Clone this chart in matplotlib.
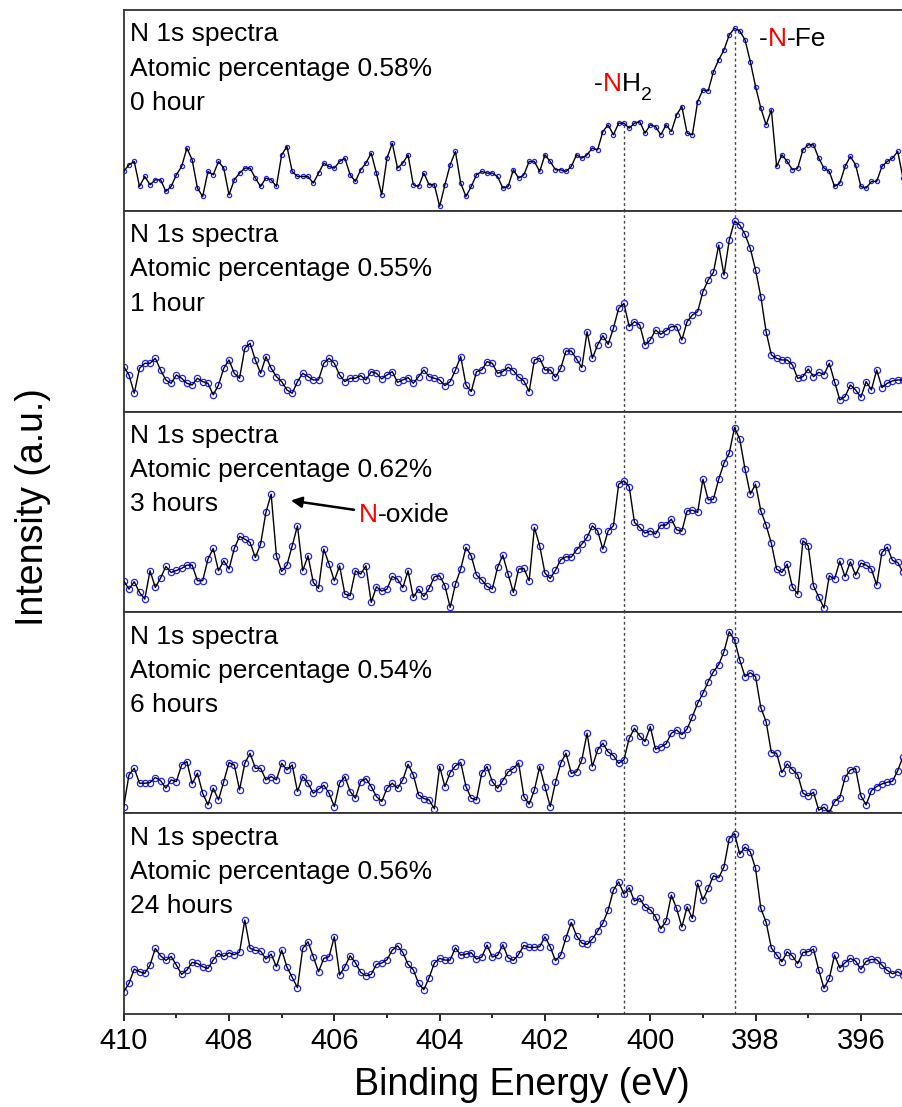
import numpy as np
import matplotlib.pyplot as plt
from matplotlib.ticker import MultipleLocator

plt.rcParams['font.family'] = 'Liberation Sans'

# binding energy grid (eV), 0.1 eV steps
energy = np.round(np.arange(410.0, 395.15, -0.1), 1)

hours = ['0 hour', '1 hour', '3 hours', '6 hours', '24 hours']
atomic_pct = ['0.58%', '0.55%', '0.62%', '0.54%', '0.56%']

# N 1s intensity (a.u.) for each immersion time
counts_0h = [130, 150, 160, 85, 115, 90, 105, 105, 70, 85,
             120, 145, 200, 165, 80, 55, 130, 120, 160, 140,
             60, 105, 125, 140, 140, 110, 85, 110, 105, 85,
             180, 205, 130, 115, 115, 115, 95, 125, 155, 145,
             140, 160, 170, 120, 100, 135, 155, 185, 125, 60,
             170, 215, 140, 155, 180, 90, 85, 125, 90, 90,
             25, 90, 150, 190, 95, 55, 85, 120, 130, 125,
             125, 115, 80, 85, 135, 110, 120, 160, 160, 130,
             180, 160, 135, 135, 130, 145, 180, 170, 180, 200,
             195, 250, 270, 240, 275, 275, 260, 275, 280, 245,
             270, 265, 240, 270, 250, 300, 325, 245, 240, 340,
             375, 372, 430, 465, 495, 540, 560, 552, 525, 460,
             385, 320, 270, 315, 145, 180, 160, 135, 140, 195,
             210, 210, 170, 140, 130, 85, 95, 145, 175, 150,
             85, 80, 100, 100, 145, 160, 170, 190, 110]

counts_1h = [135, 110, 55, 130, 145, 145, 160, 125, 95, 85,
             110, 100, 85, 80, 100, 90, 85, 50, 80, 130,
             155, 115, 100, 190, 205, 155, 115, 165, 130, 105,
             90, 65, 55, 90, 115, 105, 95, 95, 145, 160,
             145, 110, 90, 100, 100, 108, 95, 120, 115, 98,
             110, 120, 88, 95, 102, 85, 105, 125, 105, 100,
             95, 78, 90, 125, 165, 80, 60, 120, 125, 150,
             145, 115, 120, 133, 123, 104, 92, 60, 155, 160,
             125, 125, 103, 130, 182, 182, 158, 132, 240, 160,
             200, 228, 202, 250, 310, 325, 255, 270, 260, 200,
             215, 245, 232, 243, 255, 255, 215, 270, 290, 300,
             360, 395, 418, 500, 410, 515, 572, 560, 532, 490,
             425, 345, 240, 170, 160, 155, 155, 140, 100, 105,
             128, 105, 118, 111, 145, 90, 35, 45, 80, 65,
             43, 90, 65, 125, 72, 85, 92, 95, 95]

counts_3h = [95, 70, 92, 60, 40, 125, 75, 103, 138, 120,
             126, 132, 142, 142, 95, 95, 160, 192, 125, 155,
             130, 192, 228, 220, 210, 165, 205, 300, 355, 170,
             123, 142, 200, 260, 125, 170, 90, 72, 190, 145,
             95, 140, 55, 50, 125, 115, 140, 30, 77, 64,
             70, 108, 100, 74, 125, 45, 70, 48, 72, 107,
             110, 80, 15, 85, 130, 195, 170, 112, 98, 78,
             70, 135, 172, 115, 60, 130, 132, 95, 255, 200,
             118, 102, 127, 158, 167, 166, 188, 205, 225, 260,
             245, 190, 245, 260, 385, 395, 378, 270, 255, 238,
             245, 235, 262, 262, 280, 248, 244, 305, 307, 300,
             400, 338, 340, 400, 448, 478, 555, 520, 430, 355,
             385, 305, 262, 207, 130, 120, 145, 76, 55, 215,
             200, 80, 46, 13, 110, 100, 154, 107, 152, 112,
             148, 142, 130, 82, 180, 196, 156, 150, 120]

counts_6h = [20, 115, 135, 90, 90, 92, 107, 98, 75, 100,
             95, 145, 155, 88, 120, 60, 25, 75, 40, 95,
             152, 145, 70, 150, 180, 135, 135, 100, 110, 100,
             150, 130, 145, 65, 110, 90, 60, 72, 84, 60,
             20, 90, 110, 65, 45, 95, 104, 80, 50, 35,
             75, 90, 75, 100, 147, 115, 55, 44, 40, 13,
             140, 80, 122, 142, 153, 80, 45, 40, 120, 140,
             95, 75, 98, 124, 134, 151, 50, 27, 70, 140,
             80, 20, 93, 150, 180, 120, 124, 160, 240, 140,
             190, 210, 184, 173, 150, 160, 225, 255, 232, 215,
             260, 192, 199, 208, 240, 250, 236, 253, 290, 330,
             360, 395, 425, 446, 485, 545, 520, 460, 410, 422,
             410, 317, 275, 182, 180, 122, 148, 131, 116, 60,
             52, 63, 9, 18, 2, 35, 47, 107, 130, 134,
             52, 25, 68, 80, 88, 93, 96, 128, 170]

counts_24h = [70, 95, 138, 130, 125, 150, 200, 178, 164, 176,
              150, 122, 135, 158, 155, 145, 140, 165, 185, 176,
              187, 181, 189, 285, 200, 194, 192, 168, 183, 145,
              195, 144, 113, 82, 200, 220, 175, 130, 170, 175,
              235, 120, 145, 178, 157, 128, 118, 122, 152, 156,
              166, 195, 208, 188, 152, 136, 95, 76, 112, 156,
              170, 165, 165, 202, 180, 183, 187, 168, 174, 210,
              174, 179, 211, 172, 164, 182, 209, 203, 203, 205,
              235, 205, 163, 180, 232, 278, 238, 216, 212, 228,
              252, 276, 315, 375, 400, 363, 382, 342, 350, 325,
              316, 295, 259, 282, 360, 320, 264, 325, 290, 395,
              345, 380, 418, 412, 445, 530, 545, 483, 504, 490,
              440, 320, 279, 201, 181, 160, 190, 177, 154, 188,
              190, 198, 135, 80, 110, 180, 141, 157, 170, 162,
              137, 161, 167, 166, 150, 134, 124, 130, 120]

spectra = [counts_0h, counts_1h, counts_3h, counts_6h, counts_24h]
y_ranges = [(12, 615), (0, 603), (0, 603), (0, 603), (3, 606)]

# component positions (eV)
nh2_pos = 400.5
nfe_pos = 398.4

fig, axes = plt.subplots(5, 1, figsize=(9.03, 11.07), dpi=100, sharex=True,
                         gridspec_kw={'hspace': 0})
fig.subplots_adjust(left=0.137, right=1.0, top=0.991, bottom=0.084)


def colored_text(ax, x, y, parts, size):
    # chain text pieces left to right so each one can have its own colour
    t = ax.text(x, y, parts[0][0], color=parts[0][1], fontsize=size,
                transform=ax.transAxes, va='baseline', ha='left')
    for s, c in parts[1:]:
        t = ax.annotate(s, xy=(1, 0), xycoords=t, color=c, fontsize=size,
                        va='bottom', ha='left')
    return t


for i, ax in enumerate(axes):
    y = np.array(spectra[i])
    ms = 3 if i == 0 else 4.5
    ax.plot(energy, y, ls='none', marker='o', ms=ms, mfc='none',
            mec='#2020ff', mew=0.9, zorder=2)
    ax.plot(energy, y, color='black', lw=1.0, zorder=3)
    ax.set_xlim(410, 395.2)
    ax.set_ylim(*y_ranges[i])
    ax.set_yticks([])

    # dotted guides at the -NH2 and -N-Fe positions
    for pos in (nh2_pos, nfe_pos):
        if i == 0:
            top = np.interp(pos, energy[::-1], y[::-1])
            ax.plot([pos, pos], [y_ranges[i][0], top], color='#444444',
                    lw=1.0, ls=(0, (2, 2)), zorder=1)
        else:
            ax.axvline(pos, color='#444444', lw=1.0, ls=(0, (2, 2)), zorder=1)

    for sp in ax.spines.values():
        sp.set_linewidth(1.3)
        sp.set_color('#333333')
    ax.spines['right'].set_visible(False)

    lines = ['N 1s spectra', 'Atomic percentage ' + atomic_pct[i], hours[i]]
    for j, txt in enumerate(lines):
        ax.text(0.008, [0.843, 0.673, 0.503][j], txt, transform=ax.transAxes,
                fontsize=19, va='baseline', ha='left')

    if i < 4:
        ax.tick_params(axis='x', which='both', bottom=False, labelbottom=False)

ax = axes[-1]
ax.xaxis.set_major_locator(MultipleLocator(2))
ax.xaxis.set_minor_locator(MultipleLocator(1))
ax.tick_params(axis='x', which='major', length=5, width=1.2, direction='out',
               labelsize=21, pad=4)
ax.tick_params(axis='x', which='minor', length=3, width=1.2, direction='out')

# peak labels in the top panel
h = colored_text(axes[0], 0.6035, 0.598, [('-', 'black'), ('N', 'red'), ('H', 'black')], 19)
axes[0].annotate('2', xy=(1, 0), xycoords=h, xytext=(0.5, -6),
                 textcoords='offset points', fontsize=14, va='bottom', ha='left')
colored_text(axes[0], 0.815, 0.821, [('-', 'black'), ('N', 'red'), ('-Fe', 'black')], 19)

# N-oxide marker in the 3 h panel
axes[2].annotate('', xy=(0.211, 0.559), xytext=(0.299, 0.509),
                 xycoords='axes fraction', textcoords='axes fraction',
                 arrowprops=dict(arrowstyle='-|>', color='black', lw=1.8,
                                 mutation_scale=16))
colored_text(axes[2], 0.302, 0.448, [('N', 'red'), ('-oxide', 'black')], 19)

fig.text(522 / 903, 1 - 1095 / 1107, 'Binding Energy (eV)', fontsize=27,
         ha='center', va='baseline')
fig.text(33 / 903, 1 - 507 / 1107, 'Intensity (a.u.)', fontsize=27,
         ha='center', va='center', rotation=90)

fig.savefig('out.png', dpi=100)
